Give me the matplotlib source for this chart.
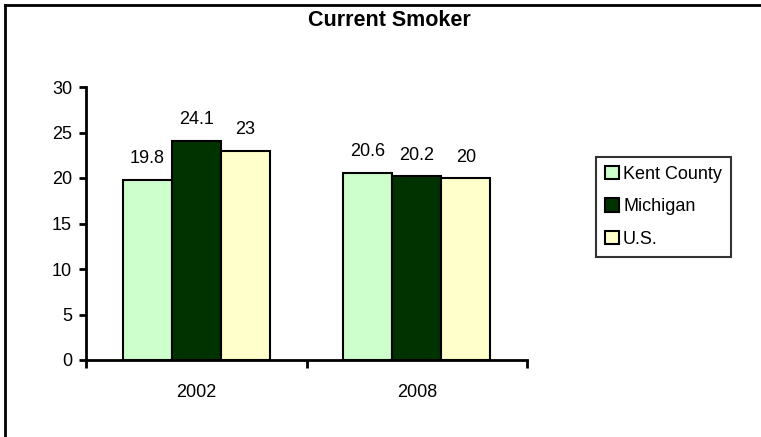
import numpy as np
import matplotlib
matplotlib.use('Agg')
import matplotlib.pyplot as plt
from matplotlib.lines import Line2D

plt.rcParams['font.family'] = ['Liberation Sans', 'DejaVu Sans']

# data
years = ['2002', '2008']
series = ['Kent County', 'Michigan', 'U.S.']
kent = [19.8, 20.6]
michigan = [24.1, 20.2]
us = [23, 20]
colors = ['#CCFFCC', '#003300', '#FFFFCC']

fig = plt.figure(figsize=(7.61, 4.37), dpi=100)
ax = fig.add_axes([86/761, 1-360/437, (527-86)/761, (360-87)/437])

x = np.arange(len(years))
w = 0.222
for i, (vals, name) in enumerate(zip([kent, michigan, us], series)):
    bars = ax.bar(x + (i-1)*w, vals, w, color=colors[i], edgecolor='black',
                  linewidth=1.5, label=name, zorder=3)
    for b, v in zip(bars, vals):
        ax.annotate(f'{v:g}', (b.get_x() + b.get_width()/2, v),
                    xytext=(0, 9), textcoords='offset points',
                    ha='center', va='bottom', fontsize=13)

ax.set_xlim(-0.5, 1.5)
ax.set_ylim(0, 30)
ax.set_yticks(range(0, 31, 5))
ax.set_xticks([-0.5, 0.5, 1.5])
ax.set_xticklabels([])
ax.set_xticks(x, minor=True)
ax.set_xticklabels(years, minor=True)
ax.tick_params(axis='x', which='major', direction='out', length=6, width=2)
ax.tick_params(axis='x', which='minor', length=0, pad=17, labelsize=13)
ax.tick_params(axis='y', direction='out', length=5, width=2, pad=5, labelsize=13)

for s in ['top', 'right']:
    ax.spines[s].set_visible(False)
for s in ['left', 'bottom']:
    ax.spines[s].set_linewidth(2)

fig.text(0.512, 1-20/437, 'Current Smoker', ha='center', va='center',
         fontsize=15.5, fontweight='bold')

leg = ax.legend(loc='upper left', bbox_to_anchor=(596/761, 1-157/437),
                bbox_transform=fig.transFigure, borderaxespad=0,
                fancybox=False, frameon=True, fontsize=13,
                handlelength=0.75, handleheight=0.75, handletextpad=0.25,
                labelspacing=0.85, borderpad=0.5)
leg.get_frame().set_edgecolor('black')
leg.get_frame().set_linewidth(1.5)

# outer chart frame (left and top edges visible)
fig.add_artist(Line2D([5/761, 5/761], [0, 1-5/437], color='black', lw=2,
                      transform=fig.transFigure))
fig.add_artist(Line2D([5/761, 1], [1-5/437, 1-5/437], color='black', lw=2,
                      transform=fig.transFigure))

fig.savefig('out.png', dpi=100)
